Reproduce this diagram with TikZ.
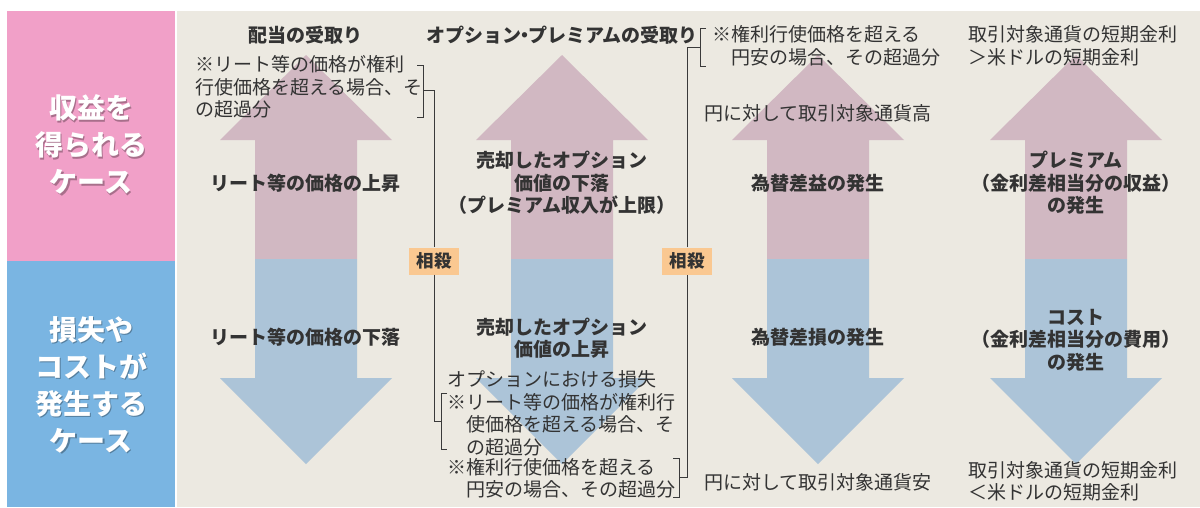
\documentclass[tikz,border=0pt]{standalone}
\usepackage{fontspec}
\setmainfont{Noto Sans CJK JP}
\definecolor{txtc}{HTML}{333333}
\definecolor{linec}{HTML}{3A3A3A}
\definecolor{upc}{HTML}{D1B8C2}
\definecolor{downc}{HTML}{ACC4D8}
\definecolor{beigec}{HTML}{ECE9E1}
\definecolor{pinkc}{HTML}{F1A0C8}
\definecolor{bluec}{HTML}{7AB5E2}
\definecolor{orangec}{HTML}{FAC891}
\begin{document}
\begin{tikzpicture}[x=1pt,y=-1pt,
  txt/.style={text=txtc, inner sep=0pt, font=\fontsize{19}{22.5}\selectfont},
  boldtxt/.style={text=txtc, inner sep=0pt, align=center, font=\fontsize{19}{22.5}\selectfont\bfseries},
  note/.style={txt, align=left, anchor=west},
  side/.style={text=white, inner sep=0pt, align=center, font=\fontsize{28}{37}\selectfont\bfseries},
  sideshadow/.style={side, text=black, opacity=0.3},
  lbl/.style={fill=orangec, text=txtc, font=\fontsize{17.5}{20}\selectfont\bfseries, minimum width=50pt, minimum height=27pt, inner sep=0pt},
  conn/.style={draw=linec, line width=0.9pt},
]
\useasboundingbox (0,0) rectangle (1200,507);
\fill[white] (0,0) rectangle (1200,507);
\fill[pinkc] (7,11) rectangle (175,261);
\fill[bluec] (7,261) rectangle (175,507);
\fill[beigec] (177,11) rectangle (1200,507);

% side labels
\node[sideshadow] (gainsh) at (92.5,146) {収益を\\得られる\\ケース};
\node[side] (gain) at (91,144.5) {収益を\\得られる\\ケース};
\node[sideshadow] (losssh) at (92.5,386) {損失や\\コストが\\発生する\\ケース};
\node[side] (loss) at (91,384.5) {損失や\\コストが\\発生する\\ケース};

% arrows
\foreach \c in {306,562,818,1076}{
  \fill[upc] (\c,55) -- (\c+86,140) -- (\c+51,140) -- (\c+51,259) -- (\c-51,259) -- (\c-51,140) -- (\c-86,140) -- cycle;
  \fill[downc] (\c-51,259) -- (\c+51,259) -- (\c+51,378) -- (\c+86,378) -- (\c,464) -- (\c-86,378) -- (\c-51,378) -- cycle;
}

% column 1
\node[boldtxt] (h1) at (305,35) {配当の受取り};
\node[note] (n1) at (195,87) {※リート等の価格が権利\\行使価格を超える場合、そ\\の超過分};
\node[boldtxt] (u1) at (305,183) {リート等の価格の上昇};
\node[boldtxt] (d1) at (305,337) {リート等の価格の下落};

% column 2
\node[boldtxt] (h2) at (562,35) {オプション\makebox[7pt][c]{・}プレミアムの受取り};
\node[boldtxt] (u2) at (562,183) {売却したオプション\\価値の下落\\（プレミアム収入が上限）};
\node[boldtxt] (d2) at (562,338) {売却したオプション\\価値の上昇};
\node[note] (n2) at (447,413.5) {オプションにおける損失\\※リート等の価格が権利行\\\phantom{※}使価格を超える場合、そ\\\phantom{※}の超過分};
\node[note] (n3) at (447,478.5) {※権利行使価格を超える\\\phantom{※}円安の場合、その超過分};

% column 3
\node[note] (n4) at (712,46) {※権利行使価格を超える\\\phantom{※}円安の場合、その超過分};
\node[txt] (hi3) at (818,113) {円に対して取引対象通貨高};
\node[boldtxt] (u3) at (818,183) {為替差益の発生};
\node[boldtxt] (d3) at (818,337) {為替差損の発生};
\node[txt] (lo3) at (818,482) {円に対して取引対象通貨安};

% column 4
\node[note] (n5) at (968,46) {取引対象通貨の短期金利\\＞米ドルの短期金利};
\node[boldtxt] (u4) at (1076,183) {プレミアム\\（金利差相当分の収益）\\の発生};
\node[boldtxt] (d4) at (1076,340) {コスト\\（金利差相当分の費用）\\の発生};
\node[note] (n6) at (968,481.5) {取引対象通貨の短期金利\\＜米ドルの短期金利};

% offset labels
\node[lbl] (s1) at (434,261) {相殺};
\node[lbl] (s2) at (687,261) {相殺};

% brackets and connectors
\coordinate (b1m) at (423,90);
\draw[conn] (417,65) -- (423,65) -- (423,117) -- (417,117);
\draw[conn] (b1m) -- (b1m -| s1.north) -- (s1.north);
\coordinate (b2m) at (441,421);
\draw[conn] (447,393) -- (441,393) -- (441,449) -- (447,449);
\draw[conn] (s1.south) -- (s1.south |- b2m) -- (b2m);
\coordinate (b3m) at (679,477);
\draw[conn] (673,458) -- (679,458) -- (679,497) -- (673,497);
\draw[conn] (b3m) -- (b3m -| s2.south) -- (s2.south);
\coordinate (b4m) at (700,47);
\draw[conn] (706,28) -- (700,28) -- (700,66) -- (706,66);
\draw[conn] (s2.north) -- (s2.north |- b4m) -- (b4m);
\end{tikzpicture}
\end{document}
